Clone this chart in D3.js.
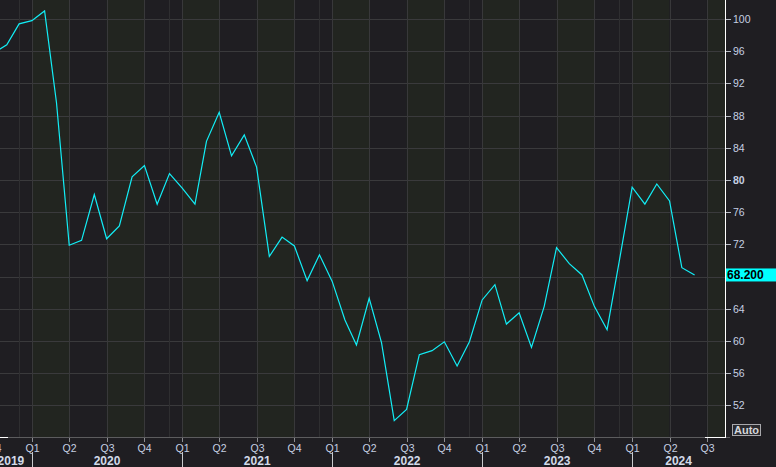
<!DOCTYPE html>
<html>
<head>
<meta charset="utf-8">
<script src="https://cdn.jsdelivr.net/npm/d3@7"></script>
<style>
  html, body { margin: 0; padding: 0; background: #1f1e22; }
  svg { display: block; font-family: "Liberation Sans", Arial, sans-serif; }
</style>
</head>
<body>
<svg id="chart" width="776" height="467"></svg>
<script>
// monthly readings, first of month
const months = [
  "2019-10", "2019-11", "2019-12",
  "2020-01", "2020-02", "2020-03", "2020-04", "2020-05", "2020-06",
  "2020-07", "2020-08", "2020-09", "2020-10", "2020-11", "2020-12",
  "2021-01", "2021-02", "2021-03", "2021-04", "2021-05", "2021-06",
  "2021-07", "2021-08", "2021-09", "2021-10", "2021-11", "2021-12",
  "2022-01", "2022-02", "2022-03", "2022-04", "2022-05", "2022-06",
  "2022-07", "2022-08", "2022-09", "2022-10", "2022-11", "2022-12",
  "2023-01", "2023-02", "2023-03", "2023-04", "2023-05", "2023-06",
  "2023-07", "2023-08", "2023-09", "2023-10", "2023-11", "2023-12",
  "2024-01", "2024-02", "2024-03", "2024-04", "2024-05", "2024-06",
];
const values = [
  95.8, 96.8, 99.4,
  99.8, 101.0, 89.6, 71.9, 72.5, 78.2,
  72.7, 74.3, 80.4, 81.8, 77.0, 80.8,
  79.0, 77.0, 84.8, 88.4, 83.0, 85.6,
  81.6, 70.5, 72.9, 71.8, 67.5, 70.7,
  67.4, 62.6, 59.5, 65.3, 59.8, 50.1,
  51.5, 58.3, 58.8, 59.9, 56.9, 59.9,
  65.1, 67.0, 62.1, 63.5, 59.2, 64.3,
  71.6, 69.6, 68.2, 64.3, 61.4, 70.0,
  79.1, 77.0, 79.5, 77.4, 69.1, 68.2,
];
const yTicks = [52, 56, 60, 64, 68, 72, 76, 80, 84, 88, 92, 96, 100];
const lastLabel = "68.200";

const W = 776, H = 467;
const plotR = 725, plotB = 437;

const svg = d3.select("#chart");
const data = months.map((m, i) => ({ date: d3.utcParse("%Y-%m")(m), value: values[i] }));

const x = d3
  .scaleUtc()
  .domain([new Date(Date.UTC(2019, 9, 15, 12)), new Date(Date.UTC(2024, 7, 14))])
  .range([0, plotR]);

const y = d3.scaleLinear().domain([48.07, 102.36]).range([plotB, 0]);

const [d0, d1] = x.domain();
const quarter = d3.utcMonth.every(3);
const quarters = quarter.range(quarter.floor(d0), d1);
const years = d3.utcYear.range(d3.utcYear.floor(d0), d1);
const last = data[data.length - 1];

svg.append("rect").attr("width", W).attr("height", H).attr("fill", "#1f1e22");

// quarter shading
const plot = svg.append("g");
plot
  .selectAll("rect.band")
  .data(quarters)
  .enter()
  .append("rect")
  .attr("x", (d) => Math.max(0, x(d)))
  .attr("y", 0)
  .attr("width", (d) => Math.min(plotR, x(d3.utcMonth.offset(d, 3))) - Math.max(0, x(d)))
  .attr("height", plotB)
  .attr("fill", (d) => (d.getUTCMonth() % 6 === 0 ? "#222520" : "#1f1e22"));

// grid
plot
  .selectAll("line.hgrid")
  .data(yTicks)
  .enter()
  .append("line")
  .attr("x1", 0)
  .attr("x2", plotR)
  .attr("y1", (d) => Math.round(y(d)) + 0.5)
  .attr("y2", (d) => Math.round(y(d)) + 0.5)
  .attr("stroke", "#3a3a3c");

plot
  .selectAll("line.vgrid")
  .data(quarters.filter((d) => x(d) > 0))
  .enter()
  .append("line")
  .attr("x1", (d) => Math.round(x(d)) + 0.5)
  .attr("x2", (d) => Math.round(x(d)) + 0.5)
  .attr("y1", 0)
  .attr("y2", plotB)
  .attr("stroke", "#38383a");

// faint marker a month before each year start
plot
  .selectAll("line.dec")
  .data(years.map((d) => d3.utcMonth.offset(d, -1)).concat([new Date(Date.UTC(2024, 11, 1))]).filter((d) => x(d) > 0 && x(d) < plotR))
  .enter()
  .append("line")
  .attr("x1", (d) => Math.round(x(d)) + 0.5)
  .attr("x2", (d) => Math.round(x(d)) + 0.5)
  .attr("y1", 0)
  .attr("y2", plotB)
  .attr("stroke", "#2e2e30");

// series
const line = d3
  .line()
  .x((d) => x(d.date))
  .y((d) => y(d.value));

svg
  .append("path")
  .datum(data)
  .attr("fill", "none")
  .attr("stroke", "#12eef6")
  .attr("stroke-width", 1.2)
  .attr("d", line);

// right axis
const yAxis = svg.append("g");
yAxis
  .append("line")
  .attr("x1", plotR + 0.5)
  .attr("x2", plotR + 0.5)
  .attr("y1", 0)
  .attr("y2", plotB)
  .attr("stroke", "#ffffff");

const yt = yAxis
  .selectAll("g.tick")
  .data(yTicks)
  .enter()
  .append("g")
  .attr("transform", (d) => `translate(0,${Math.round(y(d)) + 0.5})`);
yt.append("line").attr("x1", plotR + 1).attr("x2", plotR + 6).attr("stroke", "#b8bcc4");
// the label under the last-value tag is hidden
yt.filter((d) => Math.abs(y(d) - y(last.value)) > 10)
  .append("text")
  .attr("x", plotR + 8)
  .attr("dy", "0.35em")
  .attr("fill", "#c6d0e2")
  .attr("font-size", 10.5)
  .attr("font-weight", (d) => (d === 80 ? "bold" : "normal"))
  .text((d) => d);

// last value tag
yAxis
  .append("rect")
  .attr("x", plotR + 1)
  .attr("y", y(last.value) - 6.5)
  .attr("width", W - plotR - 1)
  .attr("height", 13)
  .attr("fill", "#00ffff");
yAxis
  .append("text")
  .attr("x", plotR + 2)
  .attr("y", y(last.value))
  .attr("dy", "0.36em")
  .attr("font-size", 12)
  .attr("font-weight", "bold")
  .attr("fill", "#000")
  .text(lastLabel);

// "Auto" button
yAxis
  .append("rect")
  .attr("x", 732.5)
  .attr("y", 424.5)
  .attr("width", 28)
  .attr("height", 11)
  .attr("fill", "#2a2a2e")
  .attr("stroke", "#a8a8ac");
yAxis
  .append("text")
  .attr("x", 746.5)
  .attr("y", 430.5)
  .attr("dy", "0.36em")
  .attr("text-anchor", "middle")
  .attr("font-size", 11)
  .attr("font-weight", "bold")
  .attr("fill", "#d4d6da")
  .text("Auto");

// bottom axis
const xAxis = svg.append("g");
xAxis
  .append("line")
  .attr("x1", 0)
  .attr("x2", plotR + 5)
  .attr("y1", plotB + 0.5)
  .attr("y2", plotB + 0.5)
  .attr("stroke", "#5c5c5e");
xAxis.append("line").attr("x1", 0).attr("x2", 8).attr("y1", plotB + 0.5).attr("y2", plotB + 0.5).attr("stroke", "#fff");
xAxis.append("line").attr("x1", 705).attr("x2", plotR + 1).attr("y1", plotB + 0.5).attr("y2", plotB + 0.5).attr("stroke", "#fff");

const qt = xAxis
  .selectAll("g.q")
  .data(quarters)
  .enter()
  .append("g")
  .attr("transform", (d) => `translate(${Math.round(x(d)) + 0.5},0)`);
qt.append("line").attr("y1", plotB + 1).attr("y2", plotB + 5).attr("stroke", "#8a8c90");
qt.append("text")
  .attr("y", plotB + 11)
  .attr("dy", "0.35em")
  .attr("text-anchor", "middle")
  .attr("font-size", 10.5)
  .attr("fill", "#c6d0e2")
  .text((d) => "Q" + (d.getUTCMonth() / 3 + 1));

xAxis
  .selectAll("line.ydiv")
  .data(years.filter((d) => x(d) > 0))
  .enter()
  .append("line")
  .attr("x1", (d) => Math.round(x(d)) + 0.5)
  .attr("x2", (d) => Math.round(x(d)) + 0.5)
  .attr("y1", plotB + 15)
  .attr("y2", H)
  .attr("stroke", "#c8cacc");

// year labels centred in the visible part of each year
xAxis
  .selectAll("text.year")
  .data(years)
  .enter()
  .append("text")
  .attr("x", (d) => {
    const a = Math.max(-10, x(d));
    const b = Math.min(plotR, x(d3.utcYear.offset(d, 1)));
    return (a + b) / 2;
  })
  .attr("y", plotB + 24)
  .attr("dy", "0.35em")
  .attr("text-anchor", "middle")
  .attr("font-size", 12)
  .attr("font-weight", "bold")
  .attr("fill", "#d2dae8")
  .text((d) => d.getUTCFullYear());
</script>
</body>
</html>
